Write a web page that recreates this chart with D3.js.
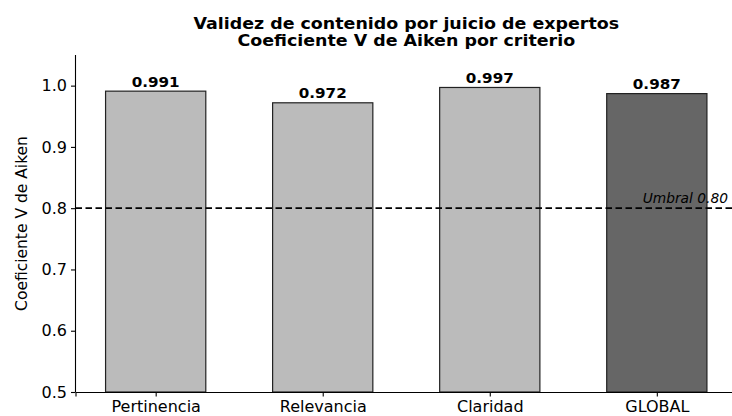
<!DOCTYPE html>
<html><head><meta charset="utf-8">
<script src="https://cdn.jsdelivr.net/npm/d3@7"></script>
<style>body{margin:0;background:#fff}svg{display:block}text{font-family:"DejaVu Sans",sans-serif}</style>
</head><body><svg id="c" width="732" height="416"></svg>
<script>
const categories = ["Pertinencia","Relevancia","Claridad","GLOBAL"];
const values = [0.991,0.972,0.997,0.987];
const colors = ["#bbbbbb","#bbbbbb","#bbbbbb","#666666"];
const yTicks = [0.5,0.6,0.7,0.8,0.9,1.0];
const threshold = 0.80;
const thresholdLabel = "Umbral 0.80";
const titleLines = ["Validez de contenido por juicio de expertos","Coeficiente V de Aiken por criterio"];
const yLabel = "Coeficiente V de Aiken";

const svg = d3.select("#c");
const L = 75.5, R = 737, T = 55, B = 392;
const x = d3.scaleLinear().domain([-0.48, 3.48]).range([L, R]);
const y = d3.scaleLinear().domain([0.5, 1.05]).range([B, T]);
const bw = 0.6;

svg.selectAll("rect.bar").data(values).enter().append("rect")
  .attr("x",(d,i)=>x(i-bw/2)).attr("width",(d,i)=>x(i+bw/2)-x(i-bw/2))
  .attr("y",d=>y(d)).attr("height",d=>y(0.5)-y(d))
  .attr("fill",(d,i)=>colors[i]).attr("stroke","#222").attr("stroke-width",1.2);

svg.selectAll("text.val").data(values).enter().append("text")
  .attr("transform",(d,i)=>`translate(${x(i)},${y(d)-4.5}) scale(1.1,1)`).attr("text-anchor","middle")
  .attr("font-size",13.8).attr("font-weight","bold").text(d=>d.toFixed(3));

svg.append("line").attr("x1",L).attr("x2",R).attr("y1",y(threshold)).attr("y2",y(threshold))
  .attr("stroke","#000").attr("stroke-width",1.8).attr("stroke-dasharray","6.5,3.5");
svg.append("text").attr("x",728).attr("y",y(threshold)-5.5).attr("text-anchor","end")
  .attr("font-size",13.8).attr("font-style","italic").text(thresholdLabel);

const ya = d3.axisLeft(y).tickValues(yTicks).tickFormat(d3.format(".1f")).tickSizeOuter(0).tickSize(4.5).tickPadding(4);
const gy = svg.append("g").attr("transform",`translate(${L},0)`).call(ya);
gy.select(".domain").attr("d",`M0,${T}V${B}`);
const xa = d3.axisBottom(x).tickValues([0,1,2,3]).tickFormat(i=>categories[i]).tickSizeOuter(0).tickSize(4.5).tickPadding(4.5);
const gx = svg.append("g").attr("transform",`translate(0,${B})`).call(xa);
[gx,gy].forEach(g=>{g.selectAll("text").attr("font-size",16).attr("fill","#000").attr("font-family","DejaVu Sans");
  g.selectAll("line,path").attr("stroke","#000").attr("stroke-width",1.1);});

svg.append("text").attr("transform",`translate(27,${(T+B)/2}) rotate(-90)`).attr("text-anchor","middle")
  .attr("font-size",15.5).text(yLabel);

svg.selectAll("text.title").data(titleLines).enter().append("text")
  .attr("transform",(d,i)=>`translate(${(L+R)/2},${28.5+i*17}) scale(1.14,1)`).attr("text-anchor","middle")
  .attr("font-size",15.3).attr("font-weight","bold").text(d=>d);
</script></body></html>
